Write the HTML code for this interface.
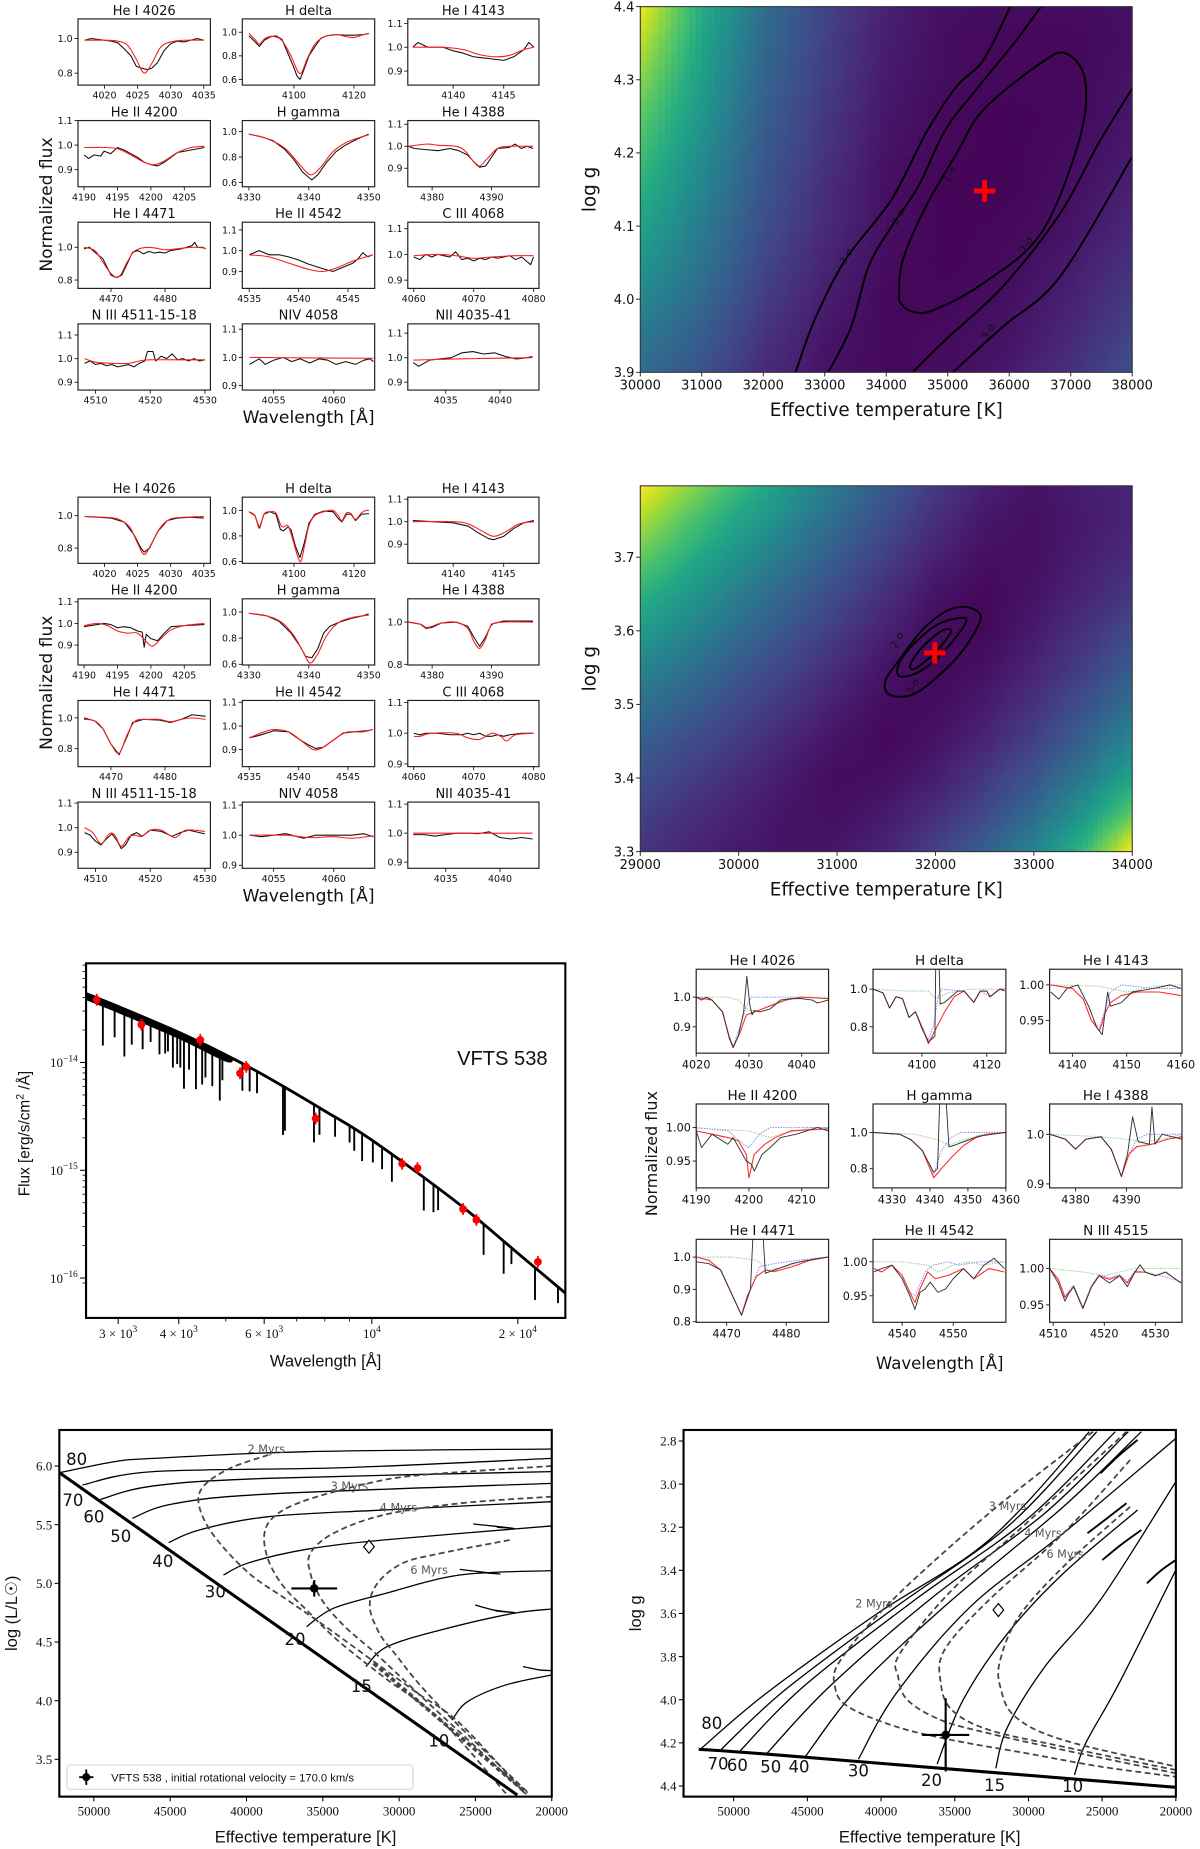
<!DOCTYPE html>
<html><head><meta charset="utf-8"><title>VFTS 538 analysis figure</title>
<style>
html,body{margin:0;padding:0;background:#fff;}
svg{display:block;}
</style></head>
<body>
<svg id="fig" xmlns="http://www.w3.org/2000/svg" viewBox="0 0 1015.23 1564.3" width="1200" height="1849">
<defs></defs>
</svg>
<script>
// ================= DATA =================
const b1_4026_obs=[[4017,0.99],[4018,1.0],[4019,0.995],[4020,0.99],[4021,0.985],[4022,0.975],[4023,0.94],[4024,0.90],[4024.8,0.84],[4025.5,0.83],[4026.5,0.82],[4027.2,0.83],[4028,0.86],[4029,0.93],[4030,0.97],[4031,0.985],[4032,0.98],[4033,0.99],[4034,1.0],[4035,0.99]];
const b1_4026_mod=[[4017,0.99],[4020,0.99],[4022,0.985],[4023.5,0.96],[4024.8,0.88],[4026,0.80],[4027.2,0.86],[4028.5,0.95],[4030,0.98],[4032,0.99],[4035,0.99]];
const b1_hd_obs=[[4085,0.97],[4087,0.92],[4088.5,0.88],[4090,0.93],[4092,0.96],[4094,0.97],[4096,0.94],[4098,0.82],[4100,0.70],[4101,0.63],[4102,0.60],[4103,0.66],[4105,0.80],[4107,0.88],[4109,0.95],[4111,0.97],[4114,0.98],[4117,0.975],[4120,0.975],[4123,0.98],[4125,0.99]];
const b1_hd_mod=[[4085,0.99],[4087,0.94],[4088.5,0.90],[4090.5,0.95],[4093,0.965],[4096,0.93],[4099,0.80],[4102,0.65],[4104.5,0.78],[4107,0.90],[4110,0.96],[4114,0.98],[4118,0.96],[4120,0.955],[4122,0.97],[4125,0.99]];
const b1_4143_obs=[[4136,1.0],[4136.5,1.02],[4137.5,1.0],[4139,1.0],[4140,0.985],[4141,0.975],[4142,0.96],[4143,0.955],[4144,0.95],[4145,0.945],[4146,0.96],[4147,0.99],[4147.5,1.02],[4148,1.0]];
const b1_4143_mod=[[4136,1.0],[4139,1.0],[4141,0.99],[4142.5,0.97],[4144,0.96],[4145.5,0.965],[4147,0.99],[4148,1.0]];
const b1_4200_obs=[[4190,0.96],[4190.7,0.945],[4191.5,0.96],[4192.5,0.955],[4193,0.975],[4194,0.965],[4195,0.99],[4196,0.98],[4197,0.965],[4198,0.95],[4199,0.93],[4200,0.92],[4201,0.915],[4202,0.93],[4203,0.95],[4204,0.97],[4205,0.975],[4206,0.98],[4207,0.985],[4208,0.99]];
const b1_4200_mod=[[4190,0.99],[4193,0.99],[4195,0.985],[4197,0.96],[4199,0.93],[4200.5,0.92],[4202,0.935],[4204,0.97],[4206,0.99],[4208,0.995]];
const b1_hg_obs=[[4330,0.98],[4332,0.96],[4334,0.93],[4336,0.86],[4337.5,0.78],[4339,0.68],[4340,0.64],[4340.5,0.62],[4341.5,0.66],[4343,0.76],[4344.5,0.84],[4346,0.89],[4348,0.94],[4350,0.98]];
const b1_hg_mod=[[4330,0.98],[4333,0.945],[4336,0.87],[4338.5,0.74],[4340.3,0.66],[4342,0.72],[4344,0.84],[4346.5,0.92],[4350,0.975]];
const b1_4388_obs=[[4376,1.0],[4377,0.99],[4379,0.985],[4381,0.98],[4383,0.99],[4384.5,0.98],[4386,0.96],[4387,0.93],[4388,0.905],[4389,0.91],[4390,0.95],[4391,0.99],[4393,0.995],[4394,1.01],[4395,0.99],[4396,1.0],[4397,0.99]];
const b1_4388_mod=[[4376,1.0],[4379,1.01],[4381,1.005],[4384,1.0],[4385.5,0.98],[4387,0.93],[4388,0.91],[4389.5,0.95],[4391,0.99],[4393,1.0],[4397,1.0]];
const b1_4471_obs=[[4465,0.99],[4466,1.0],[4467,0.97],[4468.5,0.93],[4470,0.83],[4471,0.815],[4472,0.83],[4473,0.90],[4474,0.97],[4475,0.98],[4476,0.96],[4477,0.975],[4478,0.965],[4479,0.97],[4480,0.965],[4481,0.98],[4482,0.985],[4483,0.99],[4484,1.0],[4485,1.01],[4485.5,1.03],[4486,1.0],[4487,1.0],[4487.5,0.99]];
const b1_4471_mod=[[4465,1.0],[4467,0.98],[4468.5,0.91],[4470,0.84],[4471.5,0.82],[4473,0.91],[4474.5,0.98],[4477,1.0],[4480,0.985],[4482,0.99],[4485,1.0],[4487.5,0.995]];
const b1_4542_obs=[[4535,0.98],[4535.5,0.99],[4536,1.0],[4537,0.98],[4538,0.98],[4539,0.97],[4540,0.955],[4541,0.935],[4542,0.92],[4543,0.905],[4543.5,0.90],[4544.5,0.92],[4545.5,0.94],[4546,0.96],[4546.5,0.99],[4547,0.97],[4547.5,0.98]];
const b1_4542_mod=[[4535,0.98],[4537,0.97],[4539,0.94],[4541,0.91],[4542.5,0.90],[4544,0.92],[4545.5,0.95],[4547.5,0.98]];
const b1_c3_obs=[[4060,0.99],[4061,0.98],[4062,1.0],[4063,0.99],[4064,1.0],[4065,0.995],[4066,0.99],[4067,1.01],[4068,0.98],[4069,0.985],[4070,0.975],[4071,0.985],[4072,0.98],[4073,0.99],[4074,0.985],[4075,0.99],[4076,0.995],[4077,0.98],[4078,0.99],[4079,0.97],[4079.5,0.96],[4080,0.99]];
const b1_c3_mod=[[4060,0.995],[4064,1.0],[4067,0.995],[4070,0.985],[4073,0.99],[4077,0.995],[4080,0.995]];
const b1_n3_obs=[[4508,0.98],[4509,0.99],[4510,0.975],[4511,0.98],[4512,0.97],[4513,0.975],[4514,0.965],[4515,0.97],[4516,0.975],[4517,0.965],[4518,0.98],[4519,0.99],[4519.5,1.03],[4520.5,1.03],[4521,0.99],[4522,1.01],[4523,1.0],[4524,1.02],[4525,0.995],[4526,1.0],[4527,0.99],[4528,1.0],[4529,0.99],[4530,0.995]];
const b1_n3_mod=[[4508,1.0],[4510,0.985],[4513,0.98],[4516,0.98],[4518,0.99],[4520,0.995],[4525,0.995],[4530,0.995]];
const b1_n4_obs=[[4053,0.975],[4053.8,0.995],[4054.3,0.975],[4055,0.99],[4055.8,1.0],[4056.5,0.985],[4057.2,0.995],[4058,0.98],[4058.8,0.995],[4059.5,0.99],[4060.2,0.975],[4061,0.985],[4061.8,0.975],[4062.5,0.99],[4063,0.995],[4063.3,0.985]];
const b1_n4_mod=[[4053,1.0],[4058,0.998],[4063.3,0.997]];
const b1_n2_obs=[[4032,0.98],[4032.5,0.965],[4033.5,0.99],[4034.5,0.995],[4035.5,1.0],[4036.5,1.02],[4037.5,1.025],[4038.5,1.015],[4039.5,1.02],[4040.5,1.005],[4041.5,0.995],[4042.5,1.0],[4043,1.005]];
const b1_n2_mod=[[4032,0.99],[4036,0.995],[4040,0.998],[4043,1.0]];
const b2_4026_obs=[[4017,0.995],[4019,0.99],[4021,0.985],[4023,0.96],[4024.5,0.88],[4025.5,0.80],[4026,0.775],[4026.8,0.80],[4028,0.90],[4029.5,0.97],[4031,0.985],[4033,0.99],[4035,0.985]];
const b2_4026_mod=[[4017,0.995],[4020,0.99],[4022,0.98],[4023.8,0.93],[4025,0.83],[4026,0.76],[4027,0.82],[4028.5,0.93],[4030,0.98],[4032,0.99],[4035,0.995]];
const b2_hd_obs=[[4085,0.99],[4087,0.96],[4088.5,0.86],[4090,0.97],[4092,0.99],[4094,0.97],[4095.5,0.85],[4096.5,0.84],[4098,0.87],[4099,0.85],[4100.5,0.72],[4102,0.63],[4103.5,0.75],[4105,0.90],[4107,0.97],[4110,0.995],[4113,0.99],[4115,0.93],[4116,0.91],[4117.5,0.97],[4119,0.97],[4120.5,0.92],[4122.5,0.97],[4125,0.975]];
const b2_hd_mod=[[4085,0.99],[4087,0.96],[4088.5,0.86],[4090,0.97],[4092,0.99],[4094,0.98],[4095.5,0.89],[4096.5,0.87],[4098,0.88],[4099.5,0.78],[4102,0.60],[4103.5,0.72],[4105,0.88],[4107,0.96],[4110,0.99],[4113,1.0],[4115,0.95],[4116,0.92],[4117.5,0.98],[4119,0.975],[4120.5,0.93],[4122.5,0.98],[4124,1.0],[4125,1.0]];
const b2_4143_obs=[[4136,1.005],[4138,1.0],[4140,0.995],[4141.5,0.98],[4142.5,0.95],[4143.5,0.925],[4144,0.92],[4145,0.935],[4146,0.97],[4147,0.995],[4148,1.005]];
const b2_4143_mod=[[4136,1.0],[4140,1.0],[4141.5,0.99],[4142.8,0.96],[4144,0.935],[4145.2,0.955],[4146.5,0.99],[4148,1.0]];
const b2_4200_obs=[[4190,0.985],[4191,0.99],[4193,1.0],[4194,0.995],[4195,0.98],[4196,0.985],[4197,0.98],[4198,0.965],[4198.7,0.96],[4199,0.89],[4199.3,0.95],[4200,0.93],[4201,0.92],[4202,0.955],[4203,0.985],[4205,0.99],[4208,0.995]];
const b2_4200_mod=[[4190,0.99],[4192,1.0],[4193.5,0.99],[4195,0.965],[4196.5,0.955],[4198,0.955],[4199.5,0.91],[4200.3,0.895],[4201.5,0.93],[4203,0.97],[4205,0.99],[4208,1.0]];
const b2_hg_obs=[[4330,0.99],[4333,0.97],[4335,0.93],[4337,0.84],[4338.5,0.74],[4339.5,0.66],[4340.5,0.65],[4341.5,0.72],[4342.5,0.84],[4343.5,0.89],[4345,0.92],[4347,0.95],[4349,0.97],[4350,0.985]];
const b2_hg_mod=[[4330,0.99],[4333,0.97],[4335.5,0.92],[4337.5,0.82],[4339,0.70],[4340.2,0.61],[4341.5,0.68],[4343,0.82],[4345,0.92],[4347.5,0.96],[4350,0.975]];
const b2_4388_obs=[[4376,1.0],[4378,0.99],[4379,0.97],[4380,0.975],[4381.5,0.995],[4384,1.0],[4386,0.98],[4387,0.93],[4388,0.885],[4389,0.93],[4390,0.99],[4392,1.005],[4394,1.005],[4397,1.005]];
const b2_4388_mod=[[4376,1.0],[4378,0.99],[4379,0.975],[4380,0.98],[4381.5,0.995],[4384,1.0],[4386,0.97],[4387,0.91],[4388,0.875],[4389,0.92],[4390,0.985],[4392,1.0],[4397,1.0]];
const b2_4471_obs=[[4465,1.0],[4467,0.98],[4468.5,0.93],[4470,0.83],[4471.5,0.76],[4473,0.88],[4474,0.97],[4476,0.99],[4479,0.985],[4481,0.97],[4483,0.99],[4485,1.02],[4487.5,1.01]];
const b2_4471_mod=[[4465,0.99],[4467,0.98],[4468.5,0.93],[4470,0.83],[4471.5,0.77],[4473,0.89],[4474.5,0.98],[4477,0.99],[4479,0.99],[4481,0.975],[4483,0.99],[4485,1.0],[4487.5,0.99]];
const b2_4542_obs=[[4535,0.95],[4536,0.96],[4537.5,0.98],[4539,0.975],[4540,0.945],[4541,0.92],[4541.7,0.905],[4542.5,0.91],[4543.5,0.94],[4544.5,0.97],[4545.5,0.975],[4547,0.98],[4547.5,0.985]];
const b2_4542_mod=[[4535,0.95],[4536.5,0.975],[4537.5,0.985],[4539,0.975],[4540.5,0.93],[4541.5,0.90],[4542.5,0.91],[4544,0.955],[4545,0.975],[4546.5,0.975],[4547.5,0.985]];
const b2_c3_obs=[[4060,1.0],[4061,0.995],[4062,1.0],[4064,1.0],[4066,0.995],[4068,0.995],[4069,1.0],[4070,0.995],[4071,1.0],[4072,0.99],[4073,0.99],[4074,0.995],[4075,0.99],[4076,0.995],[4078,1.0],[4080,1.0]];
const b2_c3_mod=[[4060,0.99],[4061,0.99],[4063,1.0],[4067,1.0],[4069,0.985],[4071,0.98],[4073,1.0],[4074.5,0.99],[4075.5,0.975],[4077,0.995],[4080,1.0]];
const b2_n3_obs=[[4508,0.98],[4509,0.97],[4510,0.945],[4511,0.93],[4512,0.955],[4513,0.975],[4514,0.945],[4514.7,0.915],[4515.5,0.93],[4516.5,0.97],[4517.5,0.98],[4518.5,0.965],[4520,0.99],[4522,0.985],[4524,0.965],[4525.5,0.98],[4527,0.99],[4530,0.975]];
const b2_n3_mod=[[4508,1.0],[4509.5,0.98],[4511,0.935],[4512.5,0.975],[4513.5,0.97],[4514.7,0.925],[4516,0.96],[4517,0.97],[4518.5,0.965],[4520,0.99],[4522,0.99],[4524.5,0.96],[4526.5,0.99],[4530,0.985]];
const b2_n4_obs=[[4053,1.0],[4054,0.995],[4055,1.0],[4056,1.005],[4057,0.995],[4057.5,0.99],[4058.5,1.0],[4059.5,1.0],[4060.5,1.0],[4061.5,1.0],[4062.5,1.005],[4063.3,0.995]];
const b2_n4_mod=[[4053,1.0],[4056,1.0],[4058,0.992],[4060,0.995],[4061.5,0.99],[4063.3,0.998]];
const b2_n2_obs=[[4032,0.995],[4033,0.995],[4034,0.99],[4035,0.995],[4036,1.0],[4037,1.0],[4038,0.998],[4039,1.005],[4040,0.985],[4041,0.98],[4042,0.985],[4043,0.98]];
const b2_n2_mod=[[4032,1.0],[4043,1.0]];

// ---- chi2 maps ----
const hm1T=[30000,31000,32000,33000,34000,35000,36000,37000,38000];
const hm1G=[4.40,4.35,4.30,4.25,4.20,4.15,4.10,4.05,4.00,3.95,3.90];
const hm1Vals=[
[0.98,0.62,0.36,0.20,0.09,0.04,0.03,0.03,0.04],
[0.90,0.58,0.34,0.19,0.08,0.03,0.02,0.02,0.04],
[0.82,0.55,0.32,0.18,0.07,0.03,0.02,0.02,0.05],
[0.75,0.52,0.30,0.16,0.06,0.02,0.01,0.02,0.06],
[0.69,0.48,0.28,0.15,0.05,0.02,0.01,0.03,0.07],
[0.63,0.45,0.26,0.13,0.04,0.01,0.01,0.04,0.09],
[0.58,0.41,0.24,0.12,0.04,0.01,0.02,0.05,0.11],
[0.52,0.38,0.21,0.10,0.03,0.01,0.03,0.07,0.14],
[0.46,0.34,0.18,0.08,0.02,0.02,0.04,0.09,0.17],
[0.40,0.29,0.15,0.06,0.02,0.03,0.05,0.11,0.20],
[0.35,0.25,0.12,0.05,0.02,0.03,0.07,0.14,0.24]];
const hm1Sig1=[[34240,3.994],[34427,3.983],[34770,3.985],[35580,4.022],[36516,4.090],[37139,4.218],[37233,4.300],[36921,4.336],[36516,4.323],[35580,4.259],[35144,4.199],[34645,4.127],[34271,4.054],[34209,4.008]];
const hm1Sig2a=[[33055,3.900],[33429,3.962],[33710,4.044],[34084,4.099],[34520,4.154],[34957,4.231],[35456,4.286],[36079,4.350],[36516,4.400]];
const hm1Sig2b=[[34427,3.900],[34957,3.944],[35892,4.017],[36827,4.117],[37451,4.213],[38000,4.288]];
const hm1Sig3a=[[32525,3.900],[32837,3.972],[33336,4.054],[34084,4.136],[34645,4.227],[35144,4.291],[35580,4.327],[36017,4.400]];
const hm1Sig3b=[[35082,3.900],[35892,3.962],[36827,4.031],[38000,4.195]];
const hm1Best=[35599,4.148];
const hm1Labels=[["1-σ",35081,4.168],["2-σ",34240,4.110],["2-σ",36329,4.072],["3-σ",33398,4.056],["3-σ",35705,3.953]];

const hm2T=[29000,29500,30000,30500,31000,31500,32000,32500,33000,33500,34000];
const hm2G=[3.80,3.75,3.70,3.65,3.60,3.55,3.50,3.45,3.40,3.35,3.30];
const hm2Vals=[
[1.00,0.84,0.68,0.54,0.40,0.28,0.17,0.09,0.05,0.08,0.10],
[0.88,0.72,0.58,0.46,0.34,0.23,0.13,0.06,0.04,0.07,0.10],
[0.76,0.62,0.50,0.39,0.28,0.18,0.09,0.04,0.04,0.08,0.12],
[0.64,0.53,0.42,0.32,0.22,0.13,0.05,0.02,0.05,0.10,0.16],
[0.54,0.45,0.35,0.26,0.17,0.09,0.03,0.02,0.07,0.14,0.22],
[0.45,0.37,0.28,0.20,0.12,0.05,0.02,0.04,0.10,0.18,0.28],
[0.37,0.30,0.22,0.15,0.08,0.03,0.03,0.07,0.14,0.24,0.36],
[0.30,0.23,0.17,0.10,0.05,0.02,0.05,0.10,0.19,0.31,0.46],
[0.24,0.18,0.12,0.07,0.03,0.04,0.08,0.16,0.26,0.40,0.58],
[0.19,0.13,0.09,0.05,0.04,0.07,0.13,0.22,0.35,0.52,0.76],
[0.15,0.10,0.07,0.05,0.06,0.10,0.19,0.30,0.45,0.66,1.00]];
const hm2Sig3=[[32449,3.6235],[32429,3.6054],[32254,3.5692],[32020,3.5376],[31825,3.5172],[31669,3.5104],[31514,3.5149],[31494,3.5330],[31630,3.5602],[31864,3.6009],[32098,3.6258],[32293,3.6326]];
const hm2Sig2=[[32312,3.6122],[32098,3.5738],[31864,3.5466],[31669,3.5376],[31611,3.5466],[31708,3.5715],[31981,3.6054],[32215,3.6168]];
const hm2Sig1=[[32157,3.5987],[32020,3.5738],[31825,3.5511],[31747,3.5489],[31767,3.5602],[31903,3.5828],[32079,3.6009]];
const hm2Best=[31993,3.570];
const hm2Labels=[["2-σ",31640,3.585],["3-σ",31800,3.522],["1-σ",32060,3.566]];

// ---- SED ----
const sedContLam=[2576,3000,4000,5000,6000,8000,10000,15000,20000,25060];
const sedContLogF=[-13.36,-13.48,-13.72,-13.93,-14.12,-14.45,-14.72,-15.30,-15.77,-16.14];
const sedLineLam=[2790,2950,3090,3200,3370,3500,3650,3750,3800,3890,3970,4030,4100,4200,4340,4470,4540,4690,4860,4920,5410,5600,5800,6560,6620,7600,7800,8400,9000,9200,9550,10050,10500,11000,12800,13400,13700,17000,18700,19400,21700,24200];
const sedLineDepth=[0.42,0.30,0.44,0.30,0.30,0.20,0.28,0.25,0.22,0.35,0.30,0.32,0.50,0.30,0.45,0.38,0.30,0.35,0.45,0.25,0.25,0.22,0.20,0.45,0.40,0.35,0.25,0.18,0.15,0.20,0.25,0.20,0.20,0.25,0.30,0.25,0.20,0.28,0.30,0.15,0.30,0.15];
const sedPhotLam=[2710,3350,4430,5350,5510,7660,11550,12420,15420,16430,22000];
const sedPhotLogF=[-13.418,-13.65,-13.79,-14.10,-14.04,-14.52,-14.94,-14.98,-15.36,-15.46,-15.85];
const sedXMajor=[3000,4000,6000,10000,20000];
const sedXLabels=[["3","3"],["4","3"],["6","3"],["","4"],["2","4"]];
const sedXMinor=[5000,7000,8000,9000];
const sedYMajor=[-14,-15,-16];

// ---- Comparison spectra ----
const q1_obs=[[4020,1.0],[4021,0.99],[4022,1.0],[4023,0.99],[4025,0.95],[4026.3,0.86],[4027,0.83],[4028,0.87],[4029,0.95],[4029.6,1.07],[4030.2,0.97],[4030.6,0.94],[4031,0.955],[4032,0.95],[4034,0.96],[4036,0.99],[4038,0.995],[4040,0.995],[4042,0.99],[4043,0.98],[4045,0.99]];
const q1_mod=[[4020,1.0],[4023,0.99],[4025,0.95],[4026.2,0.87],[4027,0.83],[4028.3,0.88],[4029.5,0.94],[4031,0.95],[4034,0.97],[4037,0.99],[4040,1.0],[4045,0.995]];
const q1_pri=[[4020,1.0],[4023,0.99],[4025,0.95],[4026.2,0.87],[4027,0.835],[4028.3,0.90],[4029.5,0.97],[4030.5,1.0],[4040,1.0],[4045,0.995]];
const q1_sec=[[4020,1.0],[4026,1.0],[4028,0.99],[4030,0.955],[4032,0.955],[4036,0.99],[4040,1.0],[4045,1.0]];
const q2_obs=[[4085,1.0],[4088,0.98],[4090,0.90],[4092,0.96],[4094,0.95],[4096,0.85],[4098,0.88],[4100,0.79],[4102,0.72],[4104,0.75],[4104.3,1.2],[4105.2,1.2],[4105.6,0.92],[4107,0.93],[4109,0.96],[4111,0.99],[4113,0.99],[4116,0.93],[4118,0.99],[4120,0.99],[4121,0.96],[4124,1.0],[4125.5,0.99]];
const q2_mod=[[4085,1.0],[4088,0.98],[4090,0.90],[4092,0.96],[4094,0.95],[4096,0.85],[4098,0.88],[4100,0.80],[4102,0.71],[4104,0.78],[4107,0.88],[4110,0.96],[4113,0.99],[4116,0.93],[4118,0.99],[4120,0.99],[4121,0.96],[4124,1.0],[4125.5,1.0]];
const q2_pri=[[4085,1.0],[4088,0.98],[4090,0.90],[4092,0.96],[4094,0.95],[4096,0.85],[4098,0.88],[4100,0.80],[4102,0.73],[4103.5,0.80],[4105,0.96],[4106,1.0],[4113,0.99],[4116,0.93],[4118,0.99],[4121,0.96],[4124,1.0],[4125.5,1.0]];
const q2_sec=[[4085,1.0],[4095,0.99],[4102,0.99],[4104,0.95],[4108,0.98],[4115,1.0],[4126,1.0]];
const q3_obs=[[4136,0.99],[4137.5,0.98],[4139,0.995],[4141,1.0],[4143,0.97],[4144.5,0.94],[4145.5,0.93],[4146.5,0.99],[4147,0.97],[4149,0.975],[4151,0.99],[4155,0.995],[4158,1.0],[4160,0.995]];
const q3_mod=[[4136,1.0],[4140,0.995],[4142,0.98],[4143.5,0.95],[4145,0.935],[4146,0.96],[4147,0.975],[4149,0.985],[4152,0.99],[4156,0.99],[4160,0.985]];
const q3_pri=[[4136,1.0],[4140,0.995],[4142,0.98],[4143.5,0.95],[4145,0.94],[4147,0.99],[4149,1.0],[4155,0.995],[4160,0.995]];
const q3_sec=[[4136,1.0],[4145,0.998],[4150,0.99],[4155,0.998],[4160,1.0]];
const q4_obs=[[4190,0.995],[4191,0.97],[4193,0.99],[4196,0.975],[4197,0.985],[4199.5,0.95],[4200.5,0.945],[4201,0.935],[4202.5,0.96],[4204,0.97],[4206,0.985],[4209,0.99],[4213,1.0],[4215,0.995]];
const q4_mod=[[4190,0.995],[4193,0.99],[4196,0.985],[4198,0.98],[4199.5,0.96],[4200,0.925],[4201,0.96],[4203,0.975],[4205,0.985],[4208,0.995],[4215,0.998]];
const q4_pri=[[4190,1.0],[4196,0.995],[4199,0.975],[4200,0.97],[4202,0.99],[4204,1.0],[4215,1.0]];
const q4_sec=[[4190,0.999],[4200,0.995],[4204,0.985],[4206,0.99],[4212,1.0],[4215,1.0]];
const q5_obs=[[4325,1.0],[4332,0.99],[4335,0.96],[4338,0.90],[4341,0.78],[4342,0.80],[4342.6,1.2],[4344.2,1.2],[4345,0.92],[4346.5,0.93],[4349,0.95],[4353,0.98],[4360,1.0]];
const q5_mod=[[4325,1.0],[4332,0.99],[4335,0.96],[4338,0.90],[4341,0.75],[4343,0.80],[4346,0.87],[4349,0.93],[4352,0.97],[4355,0.99],[4360,1.0]];
const q5_pri=[[4325,1.0],[4332,0.99],[4335,0.96],[4338,0.90],[4341,0.77],[4343,0.90],[4345.5,0.97],[4348,1.0],[4360,1.0]];
const q5_sec=[[4325,1.0],[4336,0.99],[4342,0.96],[4345,0.93],[4349,0.96],[4354,0.99],[4360,1.0]];
const q6_obs=[[4375,1.0],[4378,0.99],[4380,0.97],[4382,0.99],[4385,0.995],[4387,0.97],[4389,0.915],[4390.2,0.96],[4391.2,1.035],[4392.3,0.985],[4394.5,0.98],[4395,1.055],[4395.6,0.98],[4397,1.0],[4401,0.99]];
const q6_mod=[[4375,1.0],[4378,0.99],[4380,0.97],[4382,0.99],[4385,0.995],[4387,0.97],[4389,0.915],[4390.5,0.96],[4392,0.975],[4395,0.98],[4398,0.99],[4401,0.995]];
const q6_pri=[[4375,1.0],[4378,0.99],[4380,0.97],[4382,0.99],[4385,0.995],[4387,0.97],[4389,0.915],[4390.5,0.96],[4392,0.99],[4394,1.0],[4401,1.0]];
const q6_sec=[[4375,1.0],[4385,0.995],[4390,0.99],[4393,0.985],[4397,0.99],[4401,1.0]];
const q7_obs=[[4465,0.985],[4467,0.98],[4469,0.96],[4471,0.88],[4472.5,0.82],[4474,0.90],[4474.5,1.1],[4476,1.1],[4476.5,0.95],[4478,0.96],[4481,0.98],[4485,0.995],[4487,1.0]];
const q7_mod=[[4465,1.0],[4467,0.99],[4469,0.96],[4471,0.88],[4472.5,0.82],[4473.5,0.88],[4475,0.94],[4476.5,0.96],[4478,0.955],[4481,0.97],[4484,0.99],[4487,1.0]];
const q7_pri=[[4465,1.0],[4467,0.99],[4469,0.96],[4471,0.88],[4472.5,0.82],[4474,0.90],[4475.5,0.97],[4478,0.98],[4482,0.99],[4487,1.0]];
const q7_sec=[[4465,1.0],[4471,1.0],[4475,0.99],[4477,0.96],[4480,0.97],[4483,0.99],[4487,1.0]];
const q8_obs=[[4534.5,0.985],[4536,0.99],[4538,0.995],[4540,0.975],[4541.5,0.95],[4542.5,0.93],[4543.5,0.955],[4544.5,0.96],[4545.5,0.97],[4547,0.955],[4548.5,0.96],[4550,0.975],[4552,0.99],[4554,0.975],[4556,0.995],[4558,1.005],[4560,0.99]];
const q8_mod=[[4534.5,0.99],[4536,0.985],[4538,0.995],[4540,0.98],[4541.5,0.955],[4542.5,0.94],[4543.5,0.96],[4545,0.985],[4546.5,0.975],[4549,0.98],[4552,0.99],[4554,0.975],[4557,0.99],[4560,0.985]];
const q8_pri=[[4534.5,0.99],[4536,0.985],[4538,0.995],[4540,0.98],[4541.5,0.955],[4542.5,0.95],[4544.5,0.985],[4546,0.995],[4549,1.0],[4551,0.995],[4555,1.0],[4560,1.0]];
const q8_sec=[[4534.5,1.0],[4540,1.0],[4545,0.995],[4547,0.985],[4550,0.995],[4553,1.0],[4556,0.995],[4560,1.0]];
const q9_obs=[[4509.3,1.0],[4511,0.98],[4512.3,0.955],[4513,0.965],[4514,0.975],[4515.8,0.945],[4517.5,0.975],[4519,0.99],[4521,0.98],[4523,0.99],[4524.5,0.975],[4526,0.995],[4527,1.005],[4528,0.995],[4530,0.99],[4532,0.995],[4535,0.98]];
const q9_mod=[[4509.3,1.0],[4511,0.985],[4512.3,0.96],[4514,0.975],[4515.8,0.945],[4517.5,0.975],[4519,0.99],[4521,0.985],[4523,0.99],[4524.5,0.98],[4526,0.995],[4528,0.995],[4530,0.99],[4532,0.995],[4535,0.98]];
const q9_pri=[[4509.3,1.0],[4511,0.985],[4512.3,0.962],[4514,0.977],[4515.8,0.947],[4517.5,0.977],[4519,0.992],[4521,0.987],[4523,0.992],[4524.5,0.982],[4526,0.997],[4530,0.992],[4535,0.982]];
const q9_sec=[[4509.3,1.0],[4516,0.995],[4520,0.99],[4523,0.995],[4526,1.0],[4535,1.0]];

// ---- HR diagram ----
const hrlZams=[[52254,5.943],[22259,3.196]];
const hrlTracks=[
[[52254,5.943],[48614,6.037],[46104,6.065],[36064,6.122],[20000,6.145]],
[[50748,5.838],[46104,5.952],[33554,5.986],[20000,6.065]],
[[49568,5.716],[46104,5.830],[38574,5.895],[20000,5.952]],
[[47485,5.554],[44849,5.676],[38574,5.761],[20000,5.852]],
[[45100,5.347],[43092,5.455],[38574,5.568],[31044,5.625],[20000,5.696]],
[[41511,5.071],[39829,5.176],[36064,5.290],[31044,5.369],[20000,5.489]],
[[36064,4.631],[34307,4.787],[31044,4.909],[26024,5.071],[20000,5.108]],
[[32174,4.290],[30793,4.460],[27279,4.602],[22510,4.744],[20000,4.781]],
[[26526,3.835],[25522,3.991],[23012,4.134],[20000,4.219]]];
const hrlHooks=[[[25146,5.506],[23600,5.485],[22450,5.468],[23600,5.478]],[[26024,5.119],[24500,5.095],[23389,5.080],[24500,5.09]],[[25020,4.815],[23700,4.77],[22385,4.750],[23700,4.765]],[[21883,4.290],[20800,4.262],[20000,4.256]]];
const hrlIso2=[[38574,6.094],[41084,5.980],[42841,5.824],[43092,5.653],[42088,5.398],[39829,5.085],[37319,4.858],[34809,4.631],[31797,4.347],[28785,4.063],[26024,3.807],[21757,3.210]];
const hrlIso3=[[20000,6.0],[28534,5.923],[32048,5.852],[36064,5.710],[38072,5.582],[38825,5.426],[38574,5.199],[37570,4.972],[36064,4.773],[34056,4.517],[31044,4.205],[27279,3.835],[23012,3.210]];
const hrlIso4=[[20000,5.739],[26024,5.682],[31044,5.582],[34307,5.426],[35813,5.256],[35813,5.085],[35060,4.858],[33554,4.631],[31546,4.403],[28534,4.034],[24769,3.580],[21757,3.210]];
const hrlIso6=[[22761,5.369],[27279,5.256],[29789,5.170],[31420,5.0],[31922,4.801],[31295,4.574],[30291,4.403],[28534,4.119],[26024,3.778],[21506,3.210]];
const hrlBundle=[[31672,4.318],[21632,3.210]];
const hrlMassLabels=[["80",51124,6.057],["70",51375,5.710],["60",49994,5.568],["50",48237,5.403],["40",45481,5.190],["30",42041,4.929],["20",36819,4.523],["15",32476,4.125],["10",27405,3.659]];
const hrlIsoLabels=[["2 Myrs",38700,6.145],["3 Myrs",33253,5.830],["4 Myrs",30042,5.648],["6 Myrs",28032,5.114]];
const hrlStar=[35562,4.957,1500,0.07];
const hrlDiamond=[31973,5.312];
const hrlXTicks=[50000,45000,40000,35000,30000,25000,20000];
const hrlYTicks=["3.5","4.0","4.5","5.0","5.5","6.0"];

// ---- Kiel diagram ----
const hrrZams=[[52370,4.230],[50934,4.236],[47784,4.252],[20000,4.406]];
const hrrTracks=[
[[52268,4.230],[47784,3.970],[40228,3.599],[32671,3.259],[25869,2.757]],
[[50934,4.236],[46525,3.955],[38968,3.568],[31411,3.197],[25365,2.757]],
[[49674,4.245],[45266,3.939],[37709,3.537],[30152,3.166],[24106,2.757]],
[[47784,4.252],[43502,3.939],[36449,3.522],[28892,3.135],[23224,2.757]],
[[45140,4.264],[41487,3.939],[35189,3.537],[27633,3.105],[22343,2.757]],
[[41538,4.276],[38968,3.970],[33930,3.568],[27633,3.228],[20000,2.788]],
[[36197,4.298],[34434,4.001],[31411,3.692],[27633,3.414],[22595,3.120]],
[[32218,4.318],[31411,4.125],[28892,3.847],[25114,3.537],[20000,2.989]],
[[26877,4.349],[26121,4.202],[23854,3.924],[20000,3.398]]];
const hrrHooks=[[[25114,2.950],[23900,2.87],[22595,2.795]],[[25995,3.228],[24700,3.16],[23350,3.089]],[[24988,3.352],[23700,3.28],[22343,3.213]],[[21965,3.460],[21000,3.40],[20000,3.352]]];
const hrrIso2=[[25617,2.757],[32671,3.135],[39220,3.537],[42747,3.816],[43124,3.939],[42243,4.032],[38968,4.125],[35189,4.187],[30152,4.248],[25114,4.310],[20000,4.357]];
const hrrIso3=[[23350,2.757],[30152,3.182],[35189,3.491],[38716,3.785],[38842,3.893],[38212,4.001],[35945,4.094],[32671,4.156],[27633,4.233],[20000,4.341]];
const hrrIso4=[[23098,2.888],[27633,3.228],[32671,3.537],[35693,3.769],[35945,3.924],[35189,4.048],[32671,4.140],[27633,4.218],[20000,4.326]];
const hrrIso6=[[23098,3.105],[27633,3.383],[30656,3.615],[31915,3.816],[31915,3.939],[30908,4.078],[27633,4.187],[20000,4.310]];
const hrrMassLabels=[["80",51488,4.109],["70",51060,4.295],["60",49750,4.303],["50",47482,4.310],["40",45568,4.310],["30",41538,4.329],["20",36575,4.372],["15",32293,4.395],["10",27003,4.400]];
const hrrIsoLabels=[["2 Myrs",40480,3.553],["3 Myrs",31411,3.101],["4 Myrs",29018,3.225],["6 Myrs",27507,3.324]];
const hrrStar=[35617,4.163,1600,0.17];
const hrrDiamond=[32041,3.584];
const hrrXTicks=[50000,45000,40000,35000,30000,25000,20000];
const hrrYTicks=["2.8","3.0","3.2","3.4","3.6","3.8","4.0","4.2","4.4"];

// ================= RENDERING =================
const NS='http://www.w3.org/2000/svg';
const svg=document.getElementById('fig');
const SANS='"DejaVu Sans","Liberation Sans",sans-serif';
const SERIF='"Liberation Serif","DejaVu Serif",serif';
let clipN=0;
function mk(tag,attrs,parent){const e=document.createElementNS(NS,tag);for(const k in attrs)e.setAttribute(k,attrs[k]);(parent||svg).appendChild(e);return e;}
function txt(parent,x,y,s,size,anchor,fam,extra){const t=mk('text',Object.assign({x:x,y:y,'font-size':size,'text-anchor':anchor||'middle','font-family':fam||SANS,fill:'#111'},extra||{}),parent);t.textContent=s;return t;}
function lin(pts){return pts.map((p,i)=>(i?'L':'M')+p[0].toFixed(2)+','+p[1].toFixed(2)).join('');}
function smooth(pts,closed){
  const n=pts.length;if(n<3&&!closed)return lin(pts);
  const g=i=>closed?pts[(i+n)%n]:pts[Math.max(0,Math.min(n-1,i))];
  let d='M'+pts[0][0].toFixed(2)+','+pts[0][1].toFixed(2);
  const m=closed?n:n-1;
  for(let i=0;i<m;i++){const p0=g(i-1),p1=g(i),p2=g(i+1),p3=g(i+2);
    const c1=[p1[0]+(p2[0]-p0[0])/6,p1[1]+(p2[1]-p0[1])/6],c2=[p2[0]-(p3[0]-p1[0])/6,p2[1]-(p3[1]-p1[1])/6];
    d+='C'+c1[0].toFixed(2)+','+c1[1].toFixed(2)+' '+c2[0].toFixed(2)+','+c2[1].toFixed(2)+' '+p2[0].toFixed(2)+','+p2[1].toFixed(2);}
  return d+(closed?'Z':'');
}
function makeClip(x,y,w,h){const id='c'+(clipN++);const cp=mk('clipPath',{id:id},svg.querySelector('defs'));mk('rect',{x:x,y:y,width:w,height:h},cp);return id;}

function specPanel(parent,name,box,xl,yl,xt,yt,title,series,fs){
  const [x0,x1,y0,y1]=box;
  const g=mk('g',{},parent);
  
  
  const X=v=>x0+(v-xl[0])/(xl[1]-xl[0])*(x1-x0);
  const Y=v=>y1-(v-yl[0])/(yl[1]-yl[0])*(y1-y0);
  const id=makeClip(x0,y0,x1-x0,y1-y0);
  const cg=mk('g',{'clip-path':'url(#'+id+')'},g);
  series.forEach(s=>{
    const pts=s.data.map(p=>[X(p[0]),Y(p[1])]);
    const p=mk('path',{d:s.smooth?smooth(pts):lin(pts),fill:'none',stroke:s.color,'stroke-width':s.w,'stroke-dasharray':s.dash||'none','stroke-linejoin':'round'},cg);
    
    
  });
  mk('rect',{x:x0,y:y0,width:x1-x0,height:y1-y0,fill:'none',stroke:'#222','stroke-width':1},g);
  const tf=fs.tick;
  xt.forEach(v=>{const x=X(v);mk('line',{x1:x,x2:x,y1:y1,y2:y1+3,stroke:'#222','stroke-width':0.8},g);
    const t=txt(g,x,y1+3.5+tf,String(v),tf,'middle');
    
    });
  yt.forEach(s=>{const y=Y(parseFloat(s));mk('line',{x1:x0-3,x2:x0,y1:y,y2:y,stroke:'#222','stroke-width':0.8},g);
    const t=txt(g,x0-4.5,y+tf*0.36,s,tf,'end');
    
    });
  const tt=txt(g,(x0+x1)/2,y0-3.5,title,fs.title,'middle');
  
  
}

const colsX=[[66,178],[205,317],[345,456]];
const rowsY=[[16,72],[102,158],[188,244],[274,330]];
const titles=["He I 4026","H delta","He I 4143","He II 4200","H gamma","He I 4388","He I 4471","He II 4542","C III 4068","N III 4511-15-18","NIV 4058","NII 4035-41"];
const xlims=[[4016,4036],[4082.8,4126.9],[4135.5,4148.5],[4189.1,4208.9],[4328.9,4351],[4375.9,4398],[4463.9,4488.4],[4534.3,4547.7],[4059,4080.9],[4506.8,4531],[4052.4,4063.4],[4031.5,4043.6]];
const xticks=[[4020,4025,4030,4035],[4100,4120],[4140,4145],[4190,4195,4200,4205],[4330,4340,4350],[4380,4390],[4470,4480],[4535,4540,4545],[4060,4070,4080],[4510,4520,4530],[4055,4060],[4035,4040]];
const ylims1=[[0.731,1.113],[0.552,1.113],[0.841,1.119],[0.83,1.1],[0.566,1.087],[0.816,1.117],[0.749,1.153],[0.818,1.137],[0.868,1.125],[0.867,1.147],[0.884,1.119],[0.868,1.138]];
const yticks1=[['0.8','1.0'],['0.6','0.8','1.0'],['0.9','1.0','1.1'],['0.9','1.0','1.1'],['0.6','0.8','1.0'],['0.9','1.0','1.1'],['0.8','1.0'],['0.9','1.0','1.1'],['0.9','1.0','1.1'],['0.9','1.0','1.1'],['0.9','1.0','1.1'],['0.9','1.0','1.1']];
const ylims2=[[0.706,1.114],[0.585,1.104],[0.815,1.109],[0.808,1.114],[0.595,1.1],[0.797,1.11],[0.683,1.113],[0.828,1.108],[0.891,1.107],[0.835,1.104],[0.89,1.11],[0.879,1.107]];
const yticks2=[['0.8','1.0'],['0.6','0.8','1.0'],['0.9','1.0','1.1'],['0.9','1.0','1.1'],['0.6','0.8','1.0'],['0.8','1.0'],['0.8','1.0'],['0.9','1.0','1.1'],['0.9','1.0','1.1'],['0.9','1.0','1.1'],['0.9','1.0','1.1'],['0.9','1.0','1.1']];
const obs1=[b1_4026_obs,b1_hd_obs,b1_4143_obs,b1_4200_obs,b1_hg_obs,b1_4388_obs,b1_4471_obs,b1_4542_obs,b1_c3_obs,b1_n3_obs,b1_n4_obs,b1_n2_obs];
const mod1=[b1_4026_mod,b1_hd_mod,b1_4143_mod,b1_4200_mod,b1_hg_mod,b1_4388_mod,b1_4471_mod,b1_4542_mod,b1_c3_mod,b1_n3_mod,b1_n4_mod,b1_n2_mod];
const obs2=[b2_4026_obs,b2_hd_obs,b2_4143_obs,b2_4200_obs,b2_hg_obs,b2_4388_obs,b2_4471_obs,b2_4542_obs,b2_c3_obs,b2_n3_obs,b2_n4_obs,b2_n2_obs];
const mod2=[b2_4026_mod,b2_hd_mod,b2_4143_mod,b2_4200_mod,b2_hg_mod,b2_4388_mod,b2_4471_mod,b2_4542_mod,b2_c3_mod,b2_n3_mod,b2_n4_mod,b2_n2_mod];

function block12(name,dy,ylims,yticks,obs,mod){
  const g=mk('g',{});
  
  
  for(let i=0;i<12;i++){
    const c=i%3,r=Math.floor(i/3);
    specPanel(g,'line-panel-'+titles[i].toLowerCase().replace(/[^a-z0-9]+/g,'-'),[colsX[c][0],colsX[c][1],rowsY[r][0]+dy,rowsY[r][1]+dy],xlims[i],ylims[i],xticks[i],yticks[i],titles[i],
      [{data:obs[i],color:'#111',w:0.9,name:'observed-spectrum'},{data:mod[i],color:'#ff1a1a',w:0.9,smooth:true,name:'model-spectrum'}],{tick:8,title:11});
  }
  const yl=txt(g,0,0,'Normalized flux',14.5,'middle',SANS,{transform:'translate(44,'+(173+dy)+') rotate(-90)'});
  
  
  const xl=txt(g,261,358+dy,'Wavelength [Å]',14.5,'middle');
  
  
}
block12('fit1-line-panels',0,ylims1,yticks1,obs1,mod1);
block12('fit2-line-panels',404.6,ylims2,yticks2,obs2,mod2);

const VIR=[[68,1,84],[72,36,117],[65,68,135],[53,95,141],[42,120,142],[33,145,140],[34,168,132],[68,191,112],[122,209,81],[189,223,38],[253,231,37]];
function viridis(v){v=Math.max(0,Math.min(1,v))*10;const i=Math.min(9,Math.floor(v)),f=v-i;const a=VIR[i],b=VIR[i+1];return 'rgb('+a.map((c,k)=>Math.round(c+(b[k]-c)*f)).join(',')+')';}

function heatmap(name,box,xr,yr,Ts,Gs,vals,contours,labels,best,xt,yt){
  const [x0,x1,y0,y1]=box;
  const X=v=>x0+(v-xr[0])/(xr[1]-xr[0])*(x1-x0);
  const Y=v=>y1-(v-yr[0])/(yr[1]-yr[0])*(y1-y0);
  const g=mk('g',{});
  
  
  const id=makeClip(x0,y0,x1-x0,y1-y0);
  const cg=mk('g',{'clip-path':'url(#'+id+')'},g);
  // each data cell is shaded with bilinear sub-cells
  const nc=Ts.length,nr=Gs.length,sub=10;
  const cellG=mk('g',{'shape-rendering':'crispEdges'},cg);
  
  
  const val=(fc,fr)=>{fc=Math.max(0,Math.min(nc-1,fc));fr=Math.max(0,Math.min(nr-1,fr));
    const c0=Math.min(nc-2,Math.floor(fc)),r0=Math.min(nr-2,Math.floor(fr));const u=fc-c0,w=fr-r0;
    return vals[r0][c0]*(1-u)*(1-w)+vals[r0][c0+1]*u*(1-w)+vals[r0+1][c0]*(1-u)*w+vals[r0+1][c0+1]*u*w;};
  const ax=X(Ts[0]),bx=X(Ts[nc-1]),ay=Y(Gs[0]),by=Y(Gs[nr-1]);
  const NX=(nc-1)*sub,NY=(nr-1)*sub;
  const sx=(bx-ax)/NX,sy=(by-ay)/NY;
  for(let j=0;j<NY;j++)for(let i=0;i<NX;i++){
    const v=val((i+0.5)/sub,(j+0.5)/sub);
    mk('rect',{x:(ax+i*sx).toFixed(2),y:(ay+j*sy).toFixed(2),width:(sx+0.6).toFixed(2),height:(sy+0.6).toFixed(2),fill:viridis(v)},cellG);
  }
  contours.forEach(ct=>{
    const pts=ct.pts.map(p=>[X(p[0]),Y(p[1])]);
    const p=mk('path',{d:smooth(pts,ct.closed),fill:'none',stroke:'#000','stroke-width':1.6},cg);
    
    
  });
  labels.forEach(l=>{
    const t=txt(cg,0,0,l[0],8.5,'middle',SANS,{transform:'translate('+X(l[1])+','+Y(l[2])+') rotate(-60)',fill:'#111'});
    
    
  });
  const bxp=X(best[0]),byp=Y(best[1]);
  const plus=mk('path',{d:'M'+(bxp-9)+','+byp+'H'+(bxp+9)+'M'+bxp+','+(byp-9)+'V'+(byp+9),stroke:'#ff0000','stroke-width':4.2},g);
  
  
  mk('rect',{x:x0,y:y0,width:x1-x0,height:y1-y0,fill:'none',stroke:'#333','stroke-width':0.9},g);
  xt.forEach(v=>{const x=X(v);mk('line',{x1:x,x2:x,y1:y1,y2:y1+3.5,stroke:'#222','stroke-width':0.8},g);
    const t=txt(g,x,y1+14.5,String(v),11,'middle');
    
    });
  yt.forEach(s=>{const y=Y(parseFloat(s));mk('line',{x1:x0-3.5,x2:x0,y1:y,y2:y,stroke:'#222','stroke-width':0.8},g);
    const t=txt(g,x0-5,y+4,s,11,'end');
    
    });
  const xl=txt(g,(x0+x1)/2,y1+37,'Effective temperature [K]',15.5,'middle');
  
  
  const yl=txt(g,0,0,'log g',15.5,'middle',SANS,{transform:'translate('+(x0-38)+','+((y0+y1)/2)+') rotate(-90)'});
  
  
}
heatmap('chi2-map-fit1',[541.7,957.9,5.6,315],[30000,38000],[3.9,4.4],hm1T,hm1G,hm1Vals,
  [{pts:hm1Sig1,closed:true,name:'contour-1-sigma'},{pts:hm1Sig2a,name:'contour-2-sigma'},{pts:hm1Sig2b,name:'contour-2-sigma'},{pts:hm1Sig3a,name:'contour-3-sigma'},{pts:hm1Sig3b,name:'contour-3-sigma'}],
  hm1Labels,hm1Best,[30000,31000,32000,33000,34000,35000,36000,37000,38000],['3.9','4.0','4.1','4.2','4.3','4.4']);
heatmap('chi2-map-fit2',[541.7,957.9,411,720.5],[29000,34000],[3.3,3.797],hm2T,hm2G,hm2Vals,
  [{pts:hm2Sig3,closed:true,name:'contour-3-sigma'},{pts:hm2Sig2,closed:true,name:'contour-2-sigma'},{pts:hm2Sig1,closed:true,name:'contour-1-sigma'}],
  hm2Labels,hm2Best,[29000,30000,31000,32000,33000,34000],['3.3','3.4','3.5','3.6','3.7']);

// ---------- SED ----------
(function(){
  const x0=72.8,x1=478.3,y0=815,y1=1115;
  const lx=[Math.log10(2576),Math.log10(25060)],ly=[-16.37,-13.08];
  const X=l=>x0+(Math.log10(l)-lx[0])/(lx[1]-lx[0])*(x1-x0);
  const Y=f=>y1-(f-ly[0])/(ly[1]-ly[0])*(y1-y0);
  const g=mk('g',{});
  
  
  const id=makeClip(x0,y0,x1-x0,y1-y0);
  const cg=mk('g',{'clip-path':'url(#'+id+')'},g);
  const cont=sedContLam.map((l,i)=>[X(l),Y(sedContLogF[i])]);
  const contAt=l=>{for(let i=0;i<sedContLam.length-1;i++){if(l<=sedContLam[i+1]){const a=Math.log10(sedContLam[i]),b=Math.log10(sedContLam[i+1]);const f=(Math.log10(l)-a)/(b-a);return sedContLogF[i]+(sedContLogF[i+1]-sedContLogF[i])*f;}}return sedContLogF[sedContLogF.length-1];};
  const blanket=[];for(let i=0;i<sedContLam.length;i++)if(sedContLam[i]<=5000)blanket.push([X(sedContLam[i]),Y(sedContLogF[i]-0.05)]);
  const bl=mk('path',{d:smooth(cont.filter((p,i)=>sedContLam[i]<=5000).concat(blanket.reverse())),fill:'#000',stroke:'#000','stroke-width':2},cg);
  
  
  const cp=mk('path',{d:smooth(cont),fill:'none',stroke:'#000','stroke-width':2.4},cg);
  
  
  sedLineLam.forEach((l,i)=>{const c=contAt(l);const ln=mk('line',{x1:X(l),x2:X(l),y1:Y(c),y2:Y(c-sedLineDepth[i]),stroke:'#000','stroke-width':1.6},cg);
    
    });
  sedPhotLam.forEach((l,i)=>{const x=X(l),y=Y(sedPhotLogF[i]);
    const eb=mk('line',{x1:x,x2:x,y1:y-5,y2:y+5,stroke:'#ff0000','stroke-width':1.5},g);
    
    
    const c=mk('circle',{cx:x,cy:y,r:3.3,fill:'#ff0000'},g);
    
    });
  mk('rect',{x:x0,y:y0,width:x1-x0,height:y1-y0,fill:'none',stroke:'#000','stroke-width':1.8},g);
  sedXMajor.forEach((l,i)=>{const x=X(l);mk('line',{x1:x,x2:x,y1:y1,y2:y1+5,stroke:'#000','stroke-width':0.9},g);
    const t=txt(g,x,y1+17,'',11,'middle',SERIF);
    
    
    const lab=sedXLabels[i];
    if(lab[0]){const a=mk('tspan',{},t);a.textContent=lab[0]+' × 10';}else{const a=mk('tspan',{},t);a.textContent='10';}
    const s=mk('tspan',{dy:-5,'font-size':8},t);s.textContent=lab[1];});
  sedXMinor.forEach(l=>{const x=X(l);mk('line',{x1:x,x2:x,y1:y1,y2:y1+3,stroke:'#000','stroke-width':0.7},g);});
  sedYMajor.forEach(e=>{const y=Y(e);mk('line',{x1:x0-5,x2:x0,y1:y,y2:y,stroke:'#000','stroke-width':0.9},g);
    const t=txt(g,x0-7,y+4,'',11,'end',SERIF);
    
    
    const a=mk('tspan',{},t);a.textContent='10';const s=mk('tspan',{dy:-5,'font-size':8},t);s.textContent='−'+(-e);
    for(let m=2;m<10;m++){const yy=Y(e+Math.log10(m));if(yy>y0&&yy<y1)mk('line',{x1:x0-3,x2:x0,y1:yy,y2:yy,stroke:'#000','stroke-width':0.7},g);}
  });
  {const yy=Y(-17+Math.log10(9));if(yy<y1)mk('line',{x1:x0-3,x2:x0,y1:yy,y2:yy,stroke:'#000','stroke-width':0.7},g);}
  const st=txt(g,425,901,'VFTS 538',17,'middle','"Liberation Sans",sans-serif');
  
  
  const xl=txt(g,275.5,1156,'Wavelength [Å]',14,'middle','"Liberation Sans",sans-serif');
  
  
  const yl=txt(g,0,0,'',13,'middle','"Liberation Sans",sans-serif',{transform:'translate(25,959) rotate(-90)'});
  
  
  const y1s=mk('tspan',{},yl);y1s.textContent='Flux [erg/s/cm';const y2s=mk('tspan',{dy:-5,'font-size':9},yl);y2s.textContent='2';const y3s=mk('tspan',{dy:5},yl);y3s.textContent=' /Å]';
})();

// ---------- 3x3 comparison spectra ----------
(function(){
  const g=mk('g',{});
  
  
  const cx=[[589,701],[738.6,851],[888,1000]],ry=[[820,891],[934,1005],[1048.5,1118.7]];
  const T=["He I 4026","H delta","He I 4143","He II 4200","H gamma","He I 4388","He I 4471","He II 4542","N III 4515"];
  const XL=[[4020,4045.1],[4084.9,4125.9],[4135.8,4160.2],[4190,4215.1],[4325,4360],[4374.9,4400.9],[4464.9,4487.1],[4534.3,4560.3],[4509.3,4535.2]];
  const YL=[[0.811,1.094],[0.66,1.106],[0.904,1.022],[0.91,1.035],[0.694,1.157],[0.892,1.061],[0.798,1.055],[0.911,1.033],[0.926,1.04]];
  const XT=[[4020,4030,4040],[4100,4120],[4140,4150,4160],[4190,4200,4210],[4330,4340,4350,4360],[4380,4390],[4470,4480],[4540,4550],[4510,4520,4530]];
  const YT=[['0.9','1.0'],['0.8','1.0'],['0.95','1.00'],['0.95','1.00'],['0.8','1.0'],['0.9','1.0'],['0.8','0.9','1.0'],['0.95','1.00'],['0.95','1.00']];
  const O=[q1_obs,q2_obs,q3_obs,q4_obs,q5_obs,q6_obs,q7_obs,q8_obs,q9_obs];
  const M=[q1_mod,q2_mod,q3_mod,q4_mod,q5_mod,q6_mod,q7_mod,q8_mod,q9_mod];
  const P=[q1_pri,q2_pri,q3_pri,q4_pri,q5_pri,q6_pri,q7_pri,q8_pri,q9_pri];
  const S=[q1_sec,q2_sec,q3_sec,q4_sec,q5_sec,q6_sec,q7_sec,q8_sec,q9_sec];
  for(let i=0;i<9;i++){const c=i%3,r=Math.floor(i/3);
    specPanel(g,'comparison-panel-'+T[i].toLowerCase().replace(/[^a-z0-9]+/g,'-'),[cx[c][0],cx[c][1],ry[r][0],ry[r][1]],XL[i],YL[i],XT[i],YT[i],T[i],
      [{data:S[i],color:'#8fd68f',w:0.9,dash:'1.2,1',name:'secondary-spectrum'},{data:P[i],color:'#8c8cff',w:0.9,dash:'1.2,1',name:'primary-spectrum'},
       {data:M[i],color:'#ff2a2a',w:0.9,name:'combined-model'},{data:O[i],color:'#333',w:0.8,name:'observed-spectrum'}],{tick:9.5,title:11.5});
  }
  const yl=txt(g,0,0,'Normalized flux',13.5,'middle',SANS,{transform:'translate(556,976) rotate(-90)'});
  
  
  const xl=txt(g,795,1158,'Wavelength [Å]',14,'middle');
  
  
})();

// ---------- HR-type diagrams ----------
function hrPlot(name,box,X,Y,zams,tracks,hooks,hookW,isos,bundle,mLabels,iLabels,star,diamond,xt,yt,ylab,legend){
  const [x0,x1,y0,y1]=box;
  const g=mk('g',{});
  
  
  const id=makeClip(x0,y0,x1-x0,y1-y0);
  const cg=mk('g',{'clip-path':'url(#'+id+')'},g);
  const P=a=>a.map(p=>[X(p[0]),Y(p[1])]);
  tracks.forEach(t=>{const p=mk('path',{d:smooth(P(t)),fill:'none',stroke:'#000','stroke-width':1.1},cg);
    
    });
  hooks.forEach(t=>{const p=mk('path',{d:smooth(P(t)),fill:'none',stroke:'#000','stroke-width':hookW},cg);
    
    });
  isos.forEach(t=>{const p=mk('path',{d:smooth(P(t)),fill:'none',stroke:'#444','stroke-width':1.5,'stroke-dasharray':'5,3'},cg);
    
    });
  if(bundle){const p=mk('path',{d:lin(P(bundle)),fill:'none',stroke:'#444','stroke-width':3,'stroke-dasharray':'4,2.5'},cg);
    
    }
  const z=mk('path',{d:lin(P(zams)),fill:'none',stroke:'#000','stroke-width':2.6},cg);
  
  
  mLabels.forEach(l=>{const t=txt(cg,X(l[1]),Y(l[2])+5,l[0],14,'middle');
    
    });
  iLabels.forEach(l=>{const t=txt(cg,X(l[1]),Y(l[2])+3.5,l[0],9.5,'middle',SANS,{fill:'#555'});
    
    });
  const sx=X(star[0]),sy=Y(star[1]);
  const eb=mk('path',{d:'M'+X(star[0]+star[2])+','+sy+'H'+X(star[0]-star[2])+'M'+sx+','+Y(star[1]+star[3])+'V'+Y(star[1]-star[3]),stroke:'#000','stroke-width':1.8},g);
  
  
  const sc=mk('circle',{cx:sx,cy:sy,r:3.6,fill:'#000'},g);
  
  
  const dx=X(diamond[0]),dy=Y(diamond[1]);
  const dm=mk('path',{d:'M'+dx+','+(dy-5.5)+'L'+(dx+4.5)+','+dy+'L'+dx+','+(dy+5.5)+'L'+(dx-4.5)+','+dy+'Z',fill:'#fff',stroke:'#000','stroke-width':1},g);
  
  
  mk('rect',{x:x0,y:y0,width:x1-x0,height:y1-y0,fill:'none',stroke:'#000','stroke-width':1.8},g);
  xt.forEach(v=>{const x=X(v);mk('line',{x1:x,x2:x,y1:y1,y2:y1+4,stroke:'#000','stroke-width':0.9},g);
    const t=txt(g,x,y1+16,String(v),11,'middle',SERIF);
    
    });
  yt.forEach(s=>{const y=Y(parseFloat(s));mk('line',{x1:x0-4,x2:x0,y1:y,y2:y,stroke:'#000','stroke-width':0.9},g);
    const t=txt(g,x0-6,y+4,s,11,'end',SERIF);
    
    });
  const xl=txt(g,(x0+x1)/2,1559,'Effective temperature [K]',14,'middle','"Liberation Sans",sans-serif');
  
  
  const yl=txt(g,0,0,ylab,14,'middle','"Liberation Sans",sans-serif',{transform:'translate('+(x0-36)+','+((y0+y1)/2)+') rotate(-90)'});
  
  
  if(legend){
    const lg=mk('g',{},g);
    
    
    mk('rect',{x:56.7,y:1493.2,width:292.7,height:20.6,rx:2.5,fill:'#fff','fill-opacity':0.85,stroke:'#ccc','stroke-width':0.8},lg);
    mk('path',{d:'M67,1503.5H79M73,1497V1510',stroke:'#000','stroke-width':1.6},lg);
    mk('circle',{cx:73,cy:1503.5,r:3.4,fill:'#000'},lg);
    const lt=txt(lg,94,1507,legend,9.5,'start','"Liberation Sans",sans-serif');
    
    
  }
}
{
  const X=T=>79.4+(50000-T)/30000*(466.8-79.4);
  const Y=L=>(1400+(198+(6-L)*352)/3)/1.182;
  hrPlot('hr-diagram',[50.2,466.8,1209.8,1520],X,Y,hrlZams,hrlTracks,hrlHooks,1.1,[hrlIso2,hrlIso3,hrlIso4,hrlIso6],hrlBundle,hrlMassLabels,hrlIsoLabels,hrlStar,hrlDiamond,hrlXTicks,hrlYTicks,'log (L/L☉)','VFTS 538 , initial rotational velocity = 170.0 km/s');
}
{
  const X=T=>620.7+(50000-T)/30000*(994.8-620.7);
  const Y=G=>1219.1+(G-2.8)/1.6*(1511.0-1219.1);
  hrPlot('kiel-diagram',[578.3,994.8,1209.8,1520],X,Y,hrrZams,hrrTracks,hrrHooks,1.6,[hrrIso2,hrrIso3,hrrIso4,hrrIso6],null,hrrMassLabels,hrrIsoLabels,hrrStar,hrrDiamond,hrrXTicks,hrrYTicks,'log g',null);
}
</script>
</body></html>
